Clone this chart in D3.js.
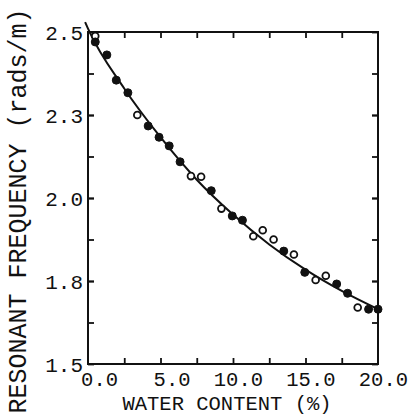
<!DOCTYPE html>
<html>
<head>
<meta charset="utf-8">
<script src="https://cdn.jsdelivr.net/npm/d3@7"></script>
<style>
  body { margin: 0; background: #fff; }
  text { font-family: "Liberation Mono", "DejaVu Sans Mono", monospace; fill: #111; }
</style>
</head>
<body>
<div id="chart"></div>
<script>
// Measured points (water content %, resonant frequency), filled or open markers
const waterContent = [0.5, 0.5, 1.3, 1.95, 2.75, 3.4, 4.15, 4.9, 5.6, 6.35, 7.1, 7.8, 8.5, 9.2, 9.95,
    10.65, 11.4, 12.05, 12.8, 13.5, 14.2, 14.95, 15.7, 16.4, 17.15, 17.9, 18.6, 19.35, 20.0];
const frequency = [2.488, 2.47, 2.431, 2.355, 2.317, 2.25, 2.217, 2.183, 2.157, 2.109, 2.066, 2.064, 2.022, 1.968, 1.946,
    1.933, 1.885, 1.903, 1.875, 1.84, 1.83, 1.776, 1.753, 1.766, 1.741, 1.713, 1.67, 1.665, 1.665];
const isOpen = [true, false, false, false, false, true, false, false, false, false, true, true, false, true, false,
    false, true, true, true, false, true, false, true, true, false, false, true, false, false];

// Fitted curve
const curveX = [-0.2, 0, 2.5, 5, 7.5, 10, 12.5, 15, 17.5, 20];
const curveY = [2.53, 2.51, 2.33, 2.183, 2.055, 1.95, 1.86, 1.784, 1.72, 1.665];

// Axis ticks and labels
const xTicks = [2.5, 5, 7.5, 10, 12.5, 15, 17.5];
const xLabelValues = [0, 5, 10, 15, 20];
const xLabels = ["0.0", "5.0", "10.0", "15.0", "20.0"];
const yTicks = [1.625, 1.75, 1.875, 2.0, 2.125, 2.25, 2.375];
const yLabelValues = [2.5, 2.25, 2.0, 1.75, 1.5];
const yLabels = ["2.5", "2.3", "2.0", "1.8", "1.5"];

const width = 412;
const height = 417;
const margin = { top: 32, right: 34, bottom: 53, left: 88 };

const svg = d3.select("#chart")
    .append("svg")
    .attr("width", width)
    .attr("height", height);

const x = d3.scaleLinear()
    .domain([0, 20])
    .range([margin.left, width - margin.right]);

const y = d3.scaleLinear()
    .domain([1.5, 2.5])
    .range([height - margin.bottom, margin.top]);

// Inward ticks on all four sides
const tickLen = 6;
const axes = [
    { axis: d3.axisBottom(x).tickValues(xTicks), pos: `translate(0, ${y(1.5)})` },
    { axis: d3.axisTop(x).tickValues(xTicks), pos: `translate(0, ${y(2.5)})` },
    { axis: d3.axisLeft(y).tickValues(yTicks.concat(yLabelValues)), pos: `translate(${x(0)}, 0)` },
    { axis: d3.axisRight(y).tickValues(yTicks.concat(yLabelValues)), pos: `translate(${x(20)}, 0)` }
];
axes.forEach(a => {
    const g = svg.append("g")
        .attr("transform", a.pos)
        .call(a.axis.tickSizeInner(-tickLen).tickSizeOuter(0).tickFormat(""));
    g.select(".domain").remove();
    g.selectAll("line").attr("stroke", "#111").attr("stroke-width", 1.8);
});

// Frame
svg.append("rect")
    .attr("x", x(0))
    .attr("y", y(2.5))
    .attr("width", x(20) - x(0))
    .attr("height", y(1.5) - y(2.5))
    .attr("fill", "none")
    .attr("stroke", "#111")
    .attr("stroke-width", 2);

// Tick labels
svg.append("g").selectAll("text")
    .data(xLabelValues)
    .join("text")
    .attr("x", d => x(d) + 30)
    .attr("y", 386)
    .attr("text-anchor", "end")
    .attr("font-size", 20.5)
    .text((d, i) => xLabels[i]);

svg.append("g").selectAll("text")
    .data(yLabelValues)
    .join("text")
    .attr("x", x(0) - 5)
    .attr("y", d => y(d))
    .attr("dy", "0.36em")
    .attr("text-anchor", "end")
    .attr("font-size", 21)
    .text((d, i) => yLabels[i]);

// Axis titles
svg.append("text")
    .attr("x", 227)
    .attr("y", 410)
    .attr("text-anchor", "middle")
    .attr("font-size", 20.5)
    .text("WATER CONTENT (%)");

svg.append("text")
    .attr("transform", "rotate(-90)")
    .attr("x", -211)
    .attr("y", 26)
    .attr("text-anchor", "middle")
    .attr("font-size", 25)
    .text("RESONANT FREQUENCY (rads/m)");

// Fitted curve
const curveData = curveX.map((d, i) => ({ x: d, y: curveY[i] }));
const line = d3.line()
    .x(d => x(d.x))
    .y(d => y(d.y))
    .curve(d3.curveMonotoneX);

svg.append("path")
    .datum(curveData)
    .attr("fill", "none")
    .attr("stroke", "#111")
    .attr("stroke-width", 2)
    .attr("d", line);

// Measured points
const points = waterContent.map((d, i) => ({ x: d, y: frequency[i], open: isOpen[i] }));
svg.append("g").selectAll("circle")
    .data(points)
    .join("circle")
    .attr("cx", d => x(d.x))
    .attr("cy", d => y(d.y))
    .attr("r", d => d.open ? 3.4 : 4)
    .attr("fill", d => d.open ? "#fff" : "#111")
    .attr("stroke", "#111")
    .attr("stroke-width", d => d.open ? 1.8 : 1);
</script>
</body>
</html>
